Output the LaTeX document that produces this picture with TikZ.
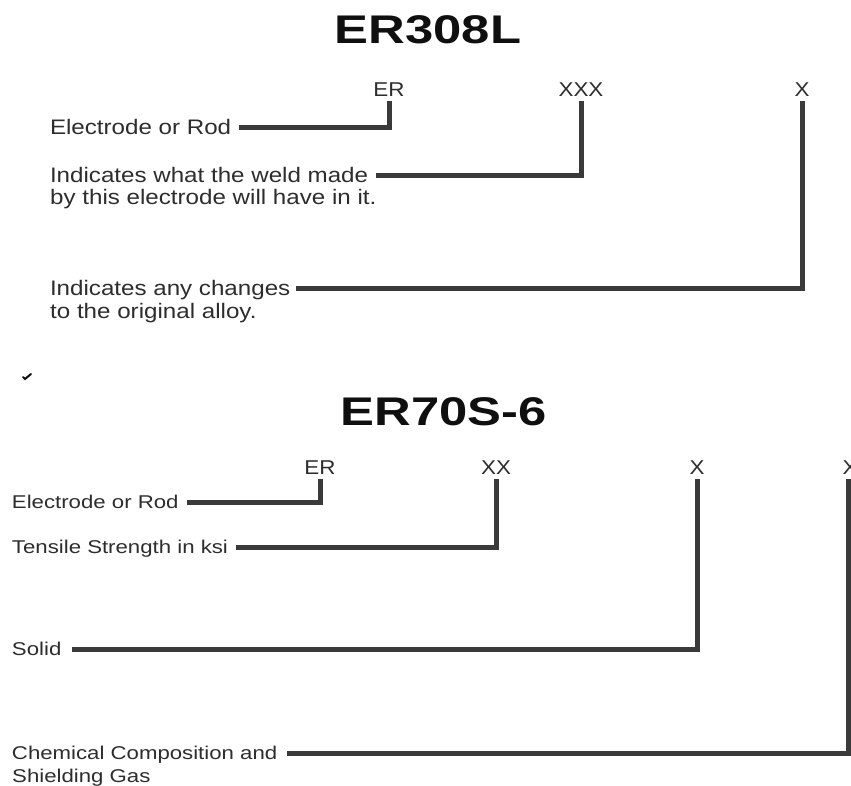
\documentclass[tikz,border=0pt]{standalone}
\usepackage{fontspec}
\setmainfont{Liberation Sans}
\newfontfamily\titlefont[FakeStretch=1.27]{Liberation Sans Bold}
\newfontfamily\codefont[FakeStretch=1.12]{Liberation Sans}
\newfontfamily\topfont[FakeStretch=1.15]{Liberation Sans}
\newfontfamily\botfont[FakeStretch=1.2]{Liberation Sans}
\usetikzlibrary{positioning}
\definecolor{ink}{RGB}{45,45,45}
\definecolor{titleink}{RGB}{15,15,15}
\definecolor{leadgray}{RGB}{58,58,58}
\tikzset{
  title/.style={font=\titlefont\fontsize{40}{40}\selectfont, text=titleink, inner sep=0pt, text depth=0pt},
  code/.style={font=\codefont\fontsize{20}{20}\selectfont, text=ink, inner sep=0pt, text height=14.5pt, text depth=0pt, outer ysep=5pt},
  lbl/.style={text=ink, inner sep=0pt, anchor=west, text depth=0pt},
  toplbl/.style={lbl, font=\topfont\fontsize{21}{21}\selectfont, text height=15pt},
  botlbl/.style={lbl, font=\botfont\fontsize{18.5}{18.5}\selectfont, text height=13.2pt},
  lead/.style={draw=leadgray, line width=5pt, line join=miter},
}

\begin{document}
\begin{tikzpicture}[x=1pt, y=-1pt]
  \path[fill=white, use as bounding box] (0,0) rectangle (851,785);

  % ER308L
  \node[title] (t1) at (428,30) {ER308L};
  \node[code] (er1) at (389,89) {ER};
  \node[code] (xxx1) at (581,89) {XXX};
  \node[code] (x1) at (802,89) {X};
  \node[toplbl, outer xsep=8pt] (rod1) at (42,127) {Electrode or Rod};
  \node[toplbl, outer xsep=8pt] (weld1) at (42,175) {Indicates what the weld made};
  \node[toplbl] (weld1b) at (50,197) {by this electrode will have in it.};
  \node[toplbl, outer xsep=6pt] (alloy1) at (44,288) {Indicates any changes};
  \node[toplbl] (alloy1b) at (50,311) {to the original alloy.};
  \draw[lead] (er1.south) |- (rod1.east);
  \draw[lead] (xxx1.south) |- (weld1.east);
  \draw[lead] (x1.south) |- (alloy1.east);

  \draw[titleink, line width=2pt, line cap=round] (23,377) -- (25,379) -- (31,374);

  % ER70S-6
  \node[title] (t2) at (444,412) {ER70S-6};
  \node[code] (er2) at (320,467) {ER};
  \node[code] (xx2) at (496,467) {XX};
  \node[code] (x2) at (697,467) {X};
  \node[code] (xg2) at (850,467) {X};
  \node[botlbl, outer xsep=8pt] (rod2) at (4,502) {Electrode or Rod};
  \node[botlbl, outer xsep=8pt] (ksi2) at (4,547) {Tensile Strength in ksi};
  \node[botlbl, outer xsep=11pt] (solid2) at (1,649) {Solid};
  \node[botlbl, outer xsep=10pt] (gas2) at (2,753) {Chemical Composition and};
  \node[botlbl] (gas2b) at (12,776) {Shielding Gas};
  \draw[lead] (er2.south) |- (rod2.east);
  \draw[lead] (xx2.south) |- (ksi2.east);
  \draw[lead] (x2.south) |- (solid2.east);
  \draw[lead] ([xshift=-2pt]xg2.south) |- (gas2.east);
\end{tikzpicture}
\end{document}
